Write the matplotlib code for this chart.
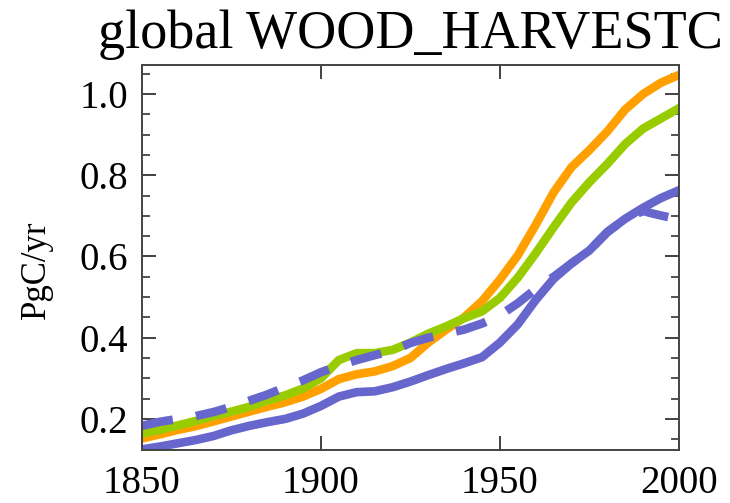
import numpy as np
import matplotlib.pyplot as plt
from matplotlib.ticker import MultipleLocator

plt.rcParams['font.family'] = ['Liberation Serif', 'DejaVu Serif']

# global wood harvest carbon flux, PgC/yr (5-year steps)
years = [1850, 1855, 1860, 1865, 1870, 1875, 1880, 1885, 1890, 1895, 1900,
         1905, 1910, 1915, 1920, 1925, 1930, 1935, 1940, 1945, 1950,
         1955, 1960, 1965, 1970, 1975, 1980, 1985, 1990, 1995, 2000]
orange = [0.152, 0.162, 0.173, 0.182, 0.194, 0.206, 0.218, 0.230, 0.241, 0.255, 0.274,
          0.298, 0.310, 0.317, 0.330, 0.350, 0.388, 0.420, 0.450, 0.490, 0.543,
          0.603, 0.678, 0.758, 0.820, 0.862, 0.908, 0.962, 1.000, 1.028, 1.047]
green = [0.164, 0.173, 0.184, 0.195, 0.207, 0.218, 0.230, 0.245, 0.258, 0.275, 0.300,
         0.345, 0.362, 0.362, 0.370, 0.388, 0.410, 0.428, 0.448, 0.465, 0.498,
         0.548, 0.608, 0.672, 0.733, 0.783, 0.828, 0.877, 0.915, 0.940, 0.965]
blue = [0.125, 0.132, 0.140, 0.148, 0.158, 0.172, 0.183, 0.192, 0.200, 0.213, 0.232,
        0.255, 0.266, 0.268, 0.278, 0.292, 0.308, 0.323, 0.337, 0.352, 0.388,
        0.433, 0.493, 0.545, 0.583, 0.615, 0.660, 0.693, 0.720, 0.744, 0.763]

years_obs = [1850, 1855, 1860, 1865, 1870, 1875, 1880, 1885, 1890, 1895, 1900,
             1905, 1910, 1915, 1920, 1925, 1930, 1935, 1940, 1945, 1950,
             1955, 1960, 1965, 1970, 1975, 1980, 1985, 1990, 1993, 1997]
blue_obs = [0.183, 0.193, 0.200, 0.207, 0.217, 0.230, 0.245, 0.260, 0.278, 0.295, 0.315,
            0.331, 0.345, 0.357, 0.368, 0.387, 0.400, 0.410, 0.420, 0.435, 0.455,
            0.485, 0.520, 0.550, 0.583, 0.615, 0.660, 0.693, 0.712, 0.705, 0.697]

c_orange = '#ffa000'
c_green = '#99cc00'
c_blue = '#6666cc'

fig = plt.figure(figsize=(7.3, 5.03), dpi=100)
ax = fig.add_axes([0.1945, 0.1054, 0.7355, 0.7654])

ax.set_xlim(1850, 2000)
ax.set_ylim(0.1235, 1.0716)

lw = 6.2
ax.plot(years, blue, color=c_blue, lw=lw)
ax.plot(years, orange, color=c_orange, lw=lw)
ax.plot(years, green, color=c_green, lw=lw)

# stretch the dash pattern slightly so the dashed line starts and ends on a dash
on, off = 3.5, 2.6
xy = ax.transData.transform(np.column_stack([years_obs, blue_obs]))
length = np.hypot(*np.diff(xy, axis=0).T).sum() * 72 / fig.dpi / lw
n = round((length - on) / (on + off))
k = length / (n * (on + off) + on)
ax.plot(years_obs, blue_obs, color=c_blue, lw=lw, dashes=(on * k, off * k),
        dash_capstyle='butt')

ax.set_xticks([1850, 1900, 1950, 2000])
ax.yaxis.set_major_locator(MultipleLocator(0.2))
ax.yaxis.set_minor_locator(MultipleLocator(0.05))
ax.yaxis.set_major_formatter(plt.FuncFormatter(lambda v, p: f'{v:.1f}'))

ax.tick_params(which='both', direction='in', top=True, right=True,
               labelsize=28, color='#333333')
ax.tick_params(which='major', length=10, width=1.3)
ax.tick_params(which='minor', length=6, width=1.2)
ax.tick_params(axis='x', which='major', pad=11)
ax.tick_params(axis='y', which='major', pad=10)
for s in ax.spines.values():
    s.set_color('#444444')
    s.set_linewidth(1.4)

ax.set_ylabel('PgC/yr', fontsize=25)
ax.yaxis.set_label_coords(-0.165, 0.4675)
ax.set_title('global WOOD_HARVESTC', fontsize=39, pad=12)

fig.savefig('out.png', dpi=100)
